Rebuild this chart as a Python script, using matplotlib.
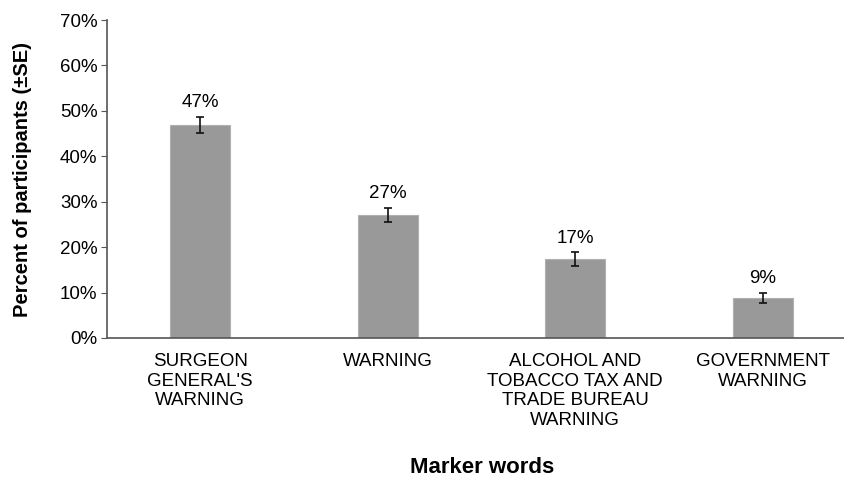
import matplotlib.pyplot as plt
from matplotlib.ticker import PercentFormatter

plt.rcParams['font.family'] = ['Liberation Sans', 'DejaVu Sans']

# Values
categories = ["SURGEON\nGENERAL'S\nWARNING", "WARNING",
              "ALCOHOL AND\nTOBACCO TAX AND\nTRADE BUREAU\nWARNING",
              "GOVERNMENT\nWARNING"]
percent = [46.9, 27.1, 17.4, 8.9]
se = [1.8, 1.6, 1.5, 1.1]
labels = ['47%', '27%', '17%', '9%']

fig = plt.figure(figsize=(8.45, 4.78), dpi=100)
ax = fig.add_axes([0.127, 0.293, 0.873, 0.665])

x = range(len(categories))
ax.bar(x, percent, width=0.32, color='#999999', edgecolor='#b0b0b0', linewidth=0.8,
       yerr=se, capsize=3, error_kw={'elinewidth': 1.2, 'capthick': 1.2, 'ecolor': '#111111'})

for xi, v, s, lab in zip(x, percent, se, labels):
    ax.text(xi, v + s + 1.2, lab, ha='center', va='bottom', fontsize=13.5)

ax.set_ylim(0, 70)
ax.set_xlim(-0.495, 3.44)
ax.set_yticks(range(0, 71, 10))
ax.yaxis.set_major_formatter(PercentFormatter(decimals=0))
ax.tick_params(axis='y', labelsize=13.5, length=4, color='#555555', pad=3)
ax.tick_params(axis='x', length=0, labelsize=13.5, pad=11)
ax.set_xticks(list(x))
ax.set_xticklabels(categories, linespacing=1.2)

for side in ['top', 'right']:
    ax.spines[side].set_visible(False)
for side in ['left', 'bottom']:
    ax.spines[side].set_color('#555555')
    ax.spines[side].set_linewidth(1.2)

ax.set_ylabel('Percent of participants (\u00b1SE)', fontsize=14.5, fontweight='bold', labelpad=20)
fig.text(0.57, 0.021, 'Marker words', ha='center', va='center', fontsize=16, fontweight='bold')

fig.savefig('out.png', dpi=100)
